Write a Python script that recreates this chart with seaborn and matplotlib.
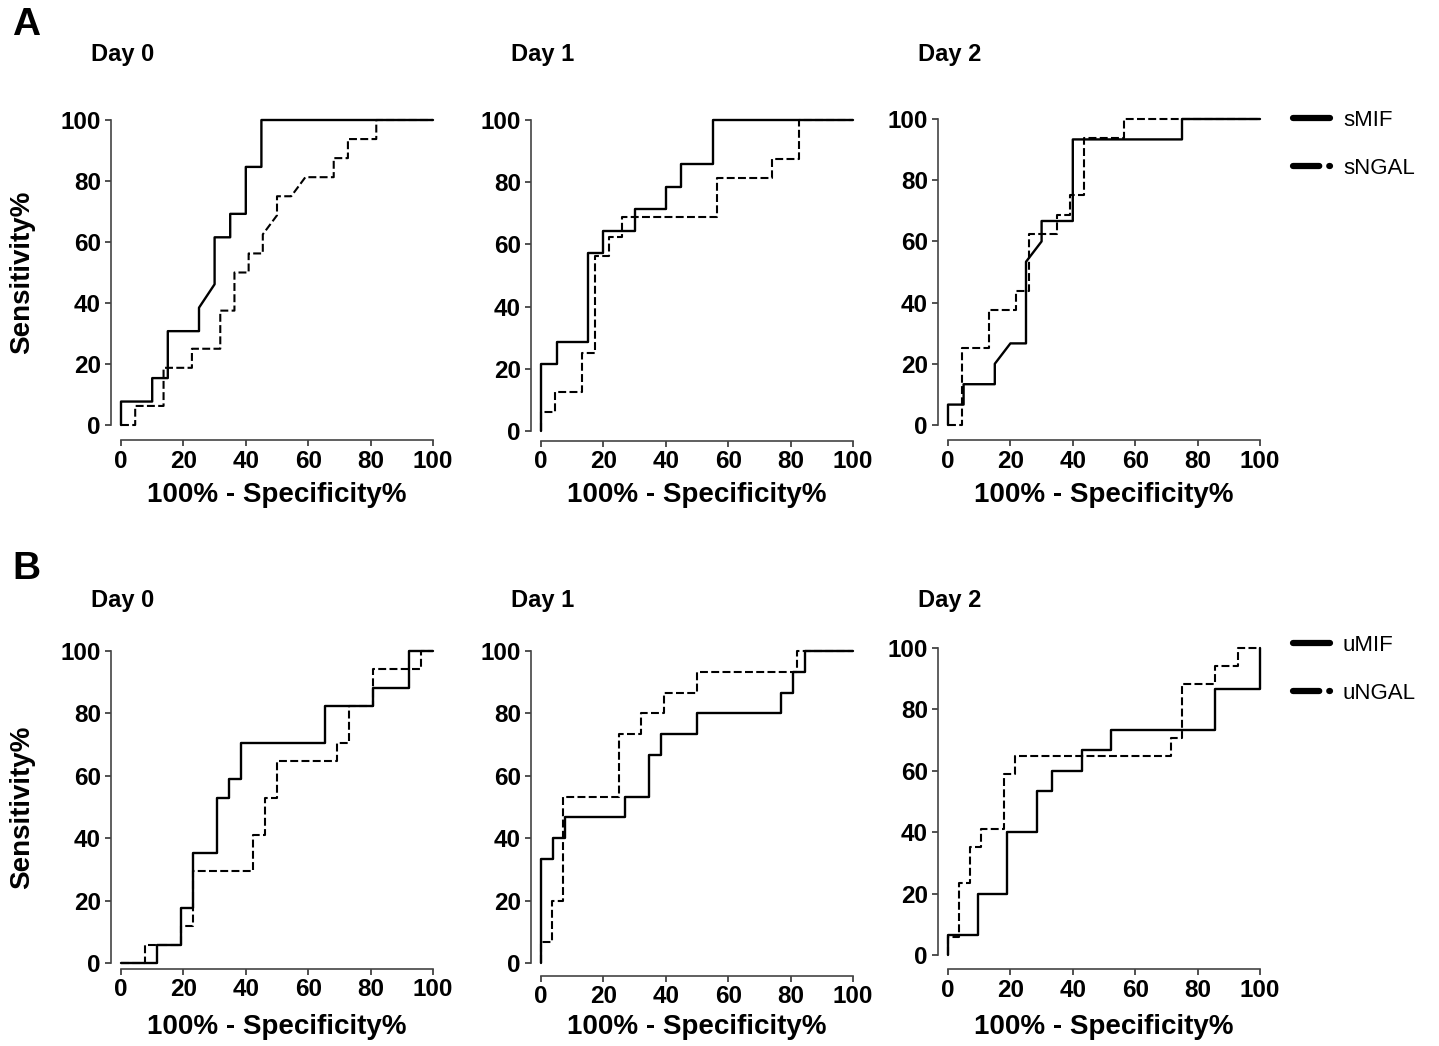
import matplotlib
matplotlib.use('Agg')
import matplotlib.pyplot as plt
from matplotlib.lines import Line2D
import seaborn as sns

sns.set_style('ticks')
plt.rcParams['font.family'] = ['Liberation Sans', 'DejaVu Sans']
plt.rcParams['text.color'] = 'black'
plt.rcParams['axes.labelcolor'] = 'black'
plt.rcParams['xtick.color'] = 'black'
plt.rcParams['ytick.color'] = 'black'

# ROC curve vertices (100% - specificity %, sensitivity %)
# Panel A: serum markers
smif_d0_fpr = [0, 0, 10, 10, 15, 15, 25, 25, 30, 30, 35, 35, 40, 40, 45, 45, 100]
smif_d0_tpr = [0, 7.69, 7.69, 15.38, 15.38, 30.77, 30.77, 38.46, 46.15, 61.54, 61.54,
               69.23, 69.23, 84.62, 84.62, 100, 100]
sngal_d0_fpr = [0, 4.55, 4.55, 13.64, 13.64, 22.73, 22.73, 31.82, 31.82, 36.36, 36.36,
                40.91, 40.91, 45.45, 45.45, 50, 50, 54.55, 59.09, 68.18, 68.18, 72.73,
                72.73, 81.82, 81.82, 100]
sngal_d0_tpr = [0, 0, 6.25, 6.25, 18.75, 18.75, 25, 25, 37.5, 37.5, 50, 50, 56.25, 56.25,
                62.5, 68.75, 75, 75, 81.25, 81.25, 87.5, 87.5, 93.75, 93.75, 100, 100]

smif_d1_fpr = [0, 0, 5, 5, 15, 15, 20, 20, 30, 30, 40, 40, 45, 45, 55, 55, 100]
smif_d1_tpr = [0, 21.43, 21.43, 28.57, 28.57, 57.14, 57.14, 64.29, 64.29, 71.43, 71.43,
               78.57, 78.57, 85.71, 85.71, 100, 100]
sngal_d1_fpr = [0, 0, 4.35, 4.35, 13.04, 13.04, 17.39, 17.39, 21.74, 21.74, 26.09, 26.09,
                56.52, 56.52, 73.91, 73.91, 82.61, 82.61, 100]
sngal_d1_tpr = [0, 6.25, 6.25, 12.5, 12.5, 25, 25, 56.25, 56.25, 62.5, 62.5, 68.75, 68.75,
                81.25, 81.25, 87.5, 87.5, 100, 100]

smif_d2_fpr = [0, 0, 5, 5, 15, 15, 20, 25, 25, 30, 30, 40, 40, 75, 75, 100]
smif_d2_tpr = [0, 6.67, 6.67, 13.33, 13.33, 20, 26.67, 26.67, 53.33, 60, 66.67, 66.67,
               93.33, 93.33, 100, 100]
sngal_d2_fpr = [0, 4.35, 4.35, 13.04, 13.04, 21.74, 21.74, 26.09, 26.09, 34.78, 34.78,
                39.13, 39.13, 43.48, 43.48, 56.52, 56.52, 100]
sngal_d2_tpr = [0, 0, 25, 25, 37.5, 37.5, 43.75, 43.75, 62.5, 62.5, 68.75, 68.75, 75, 75,
                93.75, 93.75, 100, 100]

# Panel B: urine markers
umif_d0_fpr = [0, 11.54, 11.54, 19.23, 19.23, 23.08, 23.08, 30.77, 30.77, 34.62, 34.62,
               38.46, 38.46, 65.38, 65.38, 80.77, 80.77, 92.31, 92.31, 100]
umif_d0_tpr = [0, 0, 5.88, 5.88, 17.65, 17.65, 35.29, 35.29, 52.94, 52.94, 58.82, 58.82,
               70.59, 70.59, 82.35, 82.35, 88.24, 88.24, 100, 100]
ungal_d0_fpr = [0, 7.69, 7.69, 19.23, 19.23, 23.08, 23.08, 42.31, 42.31, 46.15, 46.15,
                50, 50, 69.23, 69.23, 73.08, 73.08, 80.77, 80.77, 96.15, 96.15, 100]
ungal_d0_tpr = [0, 0, 5.88, 5.88, 11.76, 11.76, 29.41, 29.41, 41.18, 41.18, 52.94, 52.94,
                64.71, 64.71, 70.59, 70.59, 82.35, 82.35, 94.12, 94.12, 100, 100]

umif_d1_fpr = [0, 0, 3.85, 3.85, 7.69, 7.69, 26.92, 26.92, 34.62, 34.62, 38.46, 38.46,
               50, 50, 76.92, 76.92, 80.77, 80.77, 84.62, 84.62, 100]
umif_d1_tpr = [0, 33.33, 33.33, 40, 40, 46.67, 46.67, 53.33, 53.33, 66.67, 66.67, 73.33,
               73.33, 80, 80, 86.67, 86.67, 93.33, 93.33, 100, 100]
ungal_d1_fpr = [0, 0, 3.57, 3.57, 7.14, 7.14, 25, 25, 32.14, 32.14, 39.29, 39.29, 50, 50,
                82.14, 82.14, 100]
ungal_d1_tpr = [0, 6.67, 6.67, 20, 20, 53.33, 53.33, 73.33, 73.33, 80, 80, 86.67, 86.67,
                93.33, 93.33, 100, 100]

umif_d2_fpr = [0, 0, 9.52, 9.52, 19.05, 19.05, 28.57, 28.57, 33.33, 33.33, 42.86, 42.86,
               52.38, 52.38, 85.71, 85.71, 100, 100]
umif_d2_tpr = [0, 6.67, 6.67, 20, 20, 40, 40, 53.33, 53.33, 60, 60, 66.67, 66.67, 73.33,
               73.33, 86.67, 86.67, 100]
ungal_d2_fpr = [0, 0, 3.57, 3.57, 7.14, 7.14, 10.71, 10.71, 17.86, 17.86, 21.43, 21.43,
                71.43, 71.43, 75, 75, 85.71, 85.71, 92.86, 92.86, 100]
ungal_d2_tpr = [0, 5.88, 5.88, 23.53, 23.53, 35.29, 35.29, 41.18, 41.18, 58.82, 58.82,
                64.71, 64.71, 70.59, 70.59, 88.24, 88.24, 94.12, 94.12, 100, 100]

day_titles = ['Day 0', 'Day 1', 'Day 2']
row_letters = ['A', 'B']
legend_labels = [['sMIF', 'sNGAL'], ['uMIF', 'uNGAL']]
ticks = [0, 20, 40, 60, 80, 100]

curves = [
    [(smif_d0_fpr, smif_d0_tpr, sngal_d0_fpr, sngal_d0_tpr),
     (smif_d1_fpr, smif_d1_tpr, sngal_d1_fpr, sngal_d1_tpr),
     (smif_d2_fpr, smif_d2_tpr, sngal_d2_fpr, sngal_d2_tpr)],
    [(umif_d0_fpr, umif_d0_tpr, ungal_d0_fpr, ungal_d0_tpr),
     (umif_d1_fpr, umif_d1_tpr, ungal_d1_fpr, ungal_d1_tpr),
     (umif_d2_fpr, umif_d2_tpr, ungal_d2_fpr, ungal_d2_tpr)],
]

# layout in pixels: (left, top, right, bottom) of data area, spine offsets
W, H = 1439, 1046
boxes = [
    [(121, 120, 433, 425), (541, 120, 853, 431), (948, 119, 1260, 425)],
    [(121, 651, 433, 963), (541, 651, 853, 963), (948, 648, 1260, 955)],
]
bottom_off = [[11, 7, 11], [4, 9, 10]]
title_y = [55, 600]
letter_y = [25, 569]
xlabel_y = [495, 1027]
legend_top = [110, 635]

DASH = (0, (3.8, 1.6))

fig = plt.figure(figsize=(W / 100, H / 100), dpi=100)

for r in range(2):
    for c in range(3):
        l, t, rr, b = boxes[r][c]
        ax = fig.add_axes([l / W, 1 - b / H, (rr - l) / W, (b - t) / H])
        mx, my, nx, ny = curves[r][c]
        sns.lineplot(x=mx, y=my, sort=False, estimator=None, color='black', lw=1.7,
                     ax=ax, clip_on=False)
        sns.lineplot(x=nx, y=ny, sort=False, estimator=None, color='black', lw=1.5,
                     linestyle=DASH, ax=ax, clip_on=False)
        ax.set_xlim(0, 100)
        ax.set_ylim(0, 100)
        ax.set_xticks(ticks)
        ax.set_yticks(ticks)
        sns.despine(ax=ax, offset={'left': 7.5, 'bottom': bottom_off[r][c]}, trim=True)
        ax.set_xticks(ticks)
        ax.set_yticks(ticks)
        ax.set_xticklabels([str(v) for v in ticks], fontweight='bold', fontsize=17.5)
        ax.set_yticklabels([str(v) for v in ticks], fontweight='bold', fontsize=17.5)
        ax.tick_params(width=1.2, length=4, pad=3, color='#333333')
        for s in ('left', 'bottom'):
            ax.spines[s].set_linewidth(1.2)
            ax.spines[s].set_color('#444444')
        ax.set_xlabel('100% - Specificity%', fontsize=20, fontweight='bold', va='center')
        ax.xaxis.set_label_coords(0.5, -(xlabel_y[r] - b) / (b - t))
        if c == 0:
            ax.set_ylabel('Sensitivity%', fontsize=20, fontweight='bold', va='center')
            ax.yaxis.set_label_coords(-(l - 22) / (rr - l), 0.5)
        else:
            ax.set_ylabel('')
        fig.text((l - 30) / W, 1 - title_y[r] / H, day_titles[c], fontsize=17,
                 fontweight='bold', ha='left', va='center')

    fig.text(12 / W, 1 - letter_y[r] / H, row_letters[r], fontsize=28,
             fontweight='bold', ha='left', va='center')

    handles = [Line2D([], [], color='black', lw=4.5, solid_capstyle='round'),
               Line2D([], [], color='black', lw=4.5, linestyle=(0, (4.2, 1.6)),
                      dash_capstyle='round')]
    fig.legend(handles, legend_labels[r], loc='upper left',
               bbox_to_anchor=(1293 / W, 1 - legend_top[r] / H),
               bbox_transform=fig.transFigure, frameon=False, fontsize=16,
               borderaxespad=0, borderpad=0, handlelength=1.65, handletextpad=0.6,
               labelspacing=1.2)

plt.savefig('out.png', dpi=100)
